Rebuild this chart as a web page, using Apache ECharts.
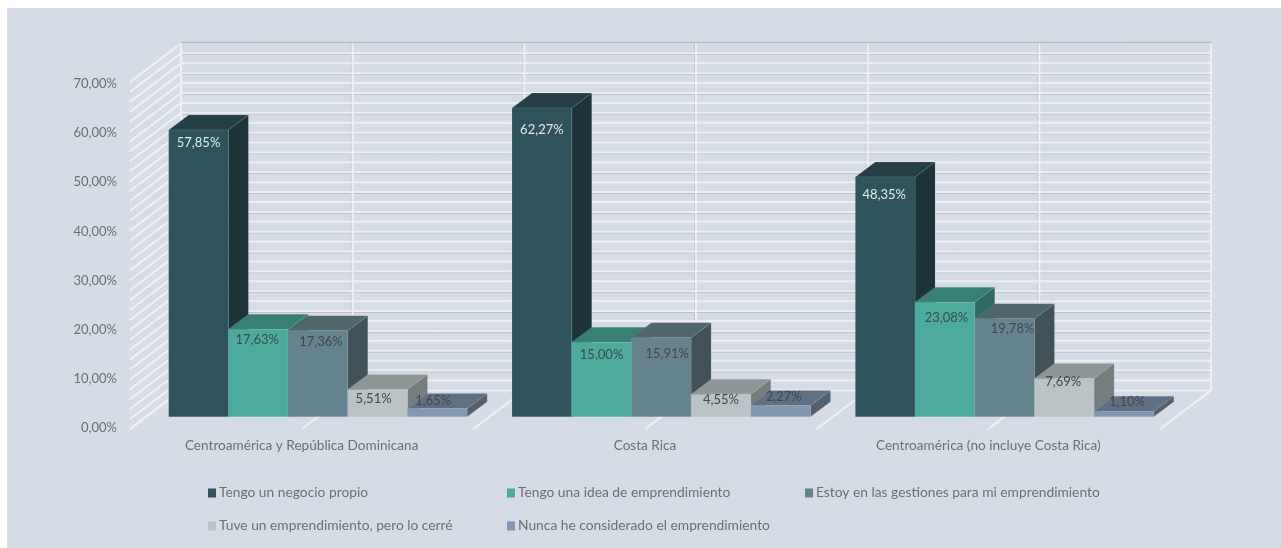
<!DOCTYPE html>
<html>
<head>
<meta charset="utf-8">
<title>Emprendimiento</title>
<script src="https://cdn.jsdelivr.net/npm/echarts@6/dist/echarts.min.js"></script>
<style>
  html, body { margin: 0; padding: 0; background: #fff; }
  #panel { position: absolute; left: 7px; top: 8px; width: 1274px; height: 540px; background: #d5dce6; }
  #chart { position: absolute; left: 0; top: 0; width: 1281px; height: 548px; }
</style>
</head>
<body>
<div id="panel"></div>
<div id="chart"></div>
<script>
const categories = ['Centroamérica y República Dominicana', 'Costa Rica', 'Centroamérica (no incluye Costa Rica)']
const seriesNames = [
  'Tengo un negocio propio',
  'Tengo una idea de emprendimiento',
  'Estoy en las gestiones para mi emprendimiento',
  'Tuve un emprendimiento, pero lo cerré',
  'Nunca he considerado el emprendimiento'
]
const negocioPropio = [57.85, 62.27, 48.35]
const ideaEmprendimiento = [17.63, 15.00, 23.08]
const enGestiones = [17.36, 15.91, 19.78]
const loCerre = [5.51, 4.55, 7.69]
const nuncaConsiderado = [1.65, 2.27, 1.10]
const allValues = [negocioPropio, ideaEmprendimiento, enGestiones, loCerre, nuncaConsiderado]
const wallTicks = [0, 2, 4, 6, 8, 10, 12, 14, 16, 18, 20, 22, 24, 26, 28, 30, 32, 34,
  36, 38, 40, 42, 44, 46, 48, 50, 52, 54, 56, 58, 60, 62, 64, 66, 68, 70]
const wallDivisions = [0, 1, 2, 3, 4, 5, 6]

// front, top, side
const barColors = [
  ['#2e535c', '#263f46', '#1e343b'],
  ['#4dab9e', '#387f74', '#2f6a62'],
  ['#65838e', '#4f676c', '#415359'],
  ['#bac3c5', '#8e9696', '#767d7f'],
  ['#8297b2', '#5f6f84', '#52606f']
]
const labelColors = ['#e4e9ec', '#3f4a4c', '#3f474c', '#43484a', '#43474d']
// nudges of each data label from the middle of the bar top [dx, dy], as the reference places them
const labelNudge = [
  [[0, 12.5], [0, 21.5], [-1, 18]],
  [[-1, 11], [0, 12], [1.5, 16]],
  [[3, 11], [6, 16], [8, 10]],
  [[-4, 9], [0, 6], [-1, 3]],
  [[-4, -8], [3, -9], [3, -9]]
]

const wallDepthX = 51
const wallDepthY = 38.6
const barDepthX = 20
const barDepthY = 15
const barInsetX = 22.4 / 343.4
const barFrontX = 16.3
const barFrontY = 12.3
const barWidthRatio = 59.7 / 343.4

function line(x1, y1, x2, y2, stroke, lineWidth) {
  return { type: 'line', shape: { x1, y1, x2, y2 }, style: { stroke, lineWidth } }
}

function renderWalls(params, api) {
  const band = api.size([1, 0])[0]
  const left = api.coord([0, 0])[0] - band / 2
  const children = []
  const yTop = api.coord([0, 70])[1] - wallDepthY
  const yFloor = api.coord([0, 0])[1] - wallDepthY
  const xBack = k => left + k * band / 2 + wallDepthX
  const xEnd = xBack(6)

  // the grey shadow only shows under part of the lines
  wallTicks.forEach(t => {
    const yb = api.coord([0, t])[1] - wallDepthY
    if (t === 70) children.push(line(left + wallDepthX, yb - 1, xEnd, yb - 1, '#aeb3ba', 1))
    else if (t !== 0 && t % 4 === 0) children.push(line(left + wallDepthX, yb + 1.2, xEnd, yb + 1.2, '#b4b9c0', 1))
  })
  wallDivisions.forEach(k => {
    if (k !== 0 && k !== 6) children.push(line(xBack(k) - 1.5, yTop, xBack(k) - 1.5, yFloor, '#c2c6cc', 1))
  })
  wallTicks.forEach(t => {
    const y = api.coord([0, t])[1]
    const yb = y - wallDepthY
    if (t !== 70) children.push(line(left + wallDepthX, yb, xEnd, yb, '#eceef1', 2))
    children.push(line(left, y, left + wallDepthX, yb, '#eef0f2', 2))
  })
  wallDivisions.forEach(k => {
    children.push(line(xBack(k), yTop, xBack(k), yFloor, '#eceef1', 2))
    children.push(line(xBack(k) - wallDepthX, yFloor + wallDepthY, xBack(k), yFloor, '#eef0f2', 2))
  })
  return { type: 'group', children }
}

function renderBar(params, api) {
  const s = params.seriesIndex - 1
  const cat = api.value(0)
  const val = api.value(1)
  const band = api.size([1, 0])[0]
  const w = band * barWidthRatio
  const c = api.coord([cat, 0])
  const x0 = c[0] - band / 2 + band * barInsetX + barFrontX + s * w
  const x1 = x0 + w
  const yBase = c[1] - barFrontY
  const yTop = api.coord([cat, val])[1] - barFrontY
  const colors = barColors[s]
  const edge = { stroke: 'rgba(205,215,220,0.2)', lineWidth: 0.5 }
  const nudge = labelNudge[s][cat]
  return {
    type: 'group',
    children: [
      {
        type: 'polygon',
        shape: { points: [[x1, yBase], [x1 + barDepthX, yBase - barDepthY], [x1 + barDepthX, yTop - barDepthY], [x1, yTop]] },
        style: { fill: colors[2], ...edge }
      },
      {
        type: 'polygon',
        shape: { points: [[x0, yTop], [x0 + barDepthX, yTop - barDepthY], [x1 + barDepthX, yTop - barDepthY], [x1, yTop]] },
        style: { fill: colors[1], ...edge }
      },
      {
        type: 'polygon',
        shape: { points: [[x0, yBase], [x0, yTop], [x1, yTop], [x1, yBase]] },
        style: { fill: colors[0], ...edge }
      },
      {
        type: 'text',
        z2: 100,
        style: {
          x: (x0 + x1) / 2 + nudge[0],
          y: yTop + nudge[1],
          text: val.toFixed(2).replace('.', ',') + '%',
          fill: labelColors[s],
          font: '13px Lato',
          align: 'center',
          verticalAlign: 'middle'
        }
      }
    ]
  }
}

const barSeries = seriesNames.map((name, i) => ({
  name,
  type: 'custom',
  renderItem: renderBar,
  clip: false,
  silent: true,
  itemStyle: { color: barColors[i][0] },
  encode: { x: 0, y: 1 },
  data: allValues[i].map((v, k) => [k, v])
}))

const legendSpots = [[208, 486], [507, 486], [805, 486], [208, 519], [507, 519]]

const chart = echarts.init(document.getElementById('chart'))
chart.setOption({
  animation: false,
  textStyle: { fontFamily: 'Lato' },
  // second grid only carries the tick labels: in the reference they are spaced a bit tighter than the wall
  grid: [
    { left: 130, right: 121, top: 82, bottom: 119 },
    { left: 130, right: 121, top: 84, bottom: 120 }
  ],
  xAxis: [
    {
      type: 'category',
      data: categories,
      axisLine: { show: false },
      axisTick: { show: false },
      axisLabel: { color: '#6b6f73', fontSize: 13.6, fontFamily: 'Lato', margin: 10, interval: 0 }
    },
    { type: 'category', gridIndex: 1, data: categories, show: false }
  ],
  yAxis: [
    {
      type: 'value',
      min: 0,
      max: 70,
      interval: 10,
      show: false
    },
    {
      type: 'value',
      gridIndex: 1,
      min: 0,
      max: 70,
      interval: 10,
      splitLine: { show: false },
      axisLine: { show: false },
      axisTick: { show: false },
      axisLabel: {
        color: '#6b6f73',
        fontSize: 13,
        fontFamily: 'Lato',
        margin: 13,
        formatter: v => v.toFixed(2).replace('.', ',') + '%'
      }
    }
  ],
  legend: seriesNames.map((name, i) => ({
    data: [name],
    left: legendSpots[i][0],
    top: legendSpots[i][1],
    padding: 0,
    icon: 'rect',
    itemWidth: 8,
    itemHeight: 9,
    selectedMode: false,
    textStyle: { color: '#6b6f73', fontSize: 13.8, fontFamily: 'Lato', padding: [0, 0, 0, -2] }
  })),
  series: [
    {
      type: 'custom',
      renderItem: renderWalls,
      clip: false,
      silent: true,
      z: 1,
      data: [[0, 0]]
    },
    ...barSeries
  ]
})
</script>
</body>
</html>
